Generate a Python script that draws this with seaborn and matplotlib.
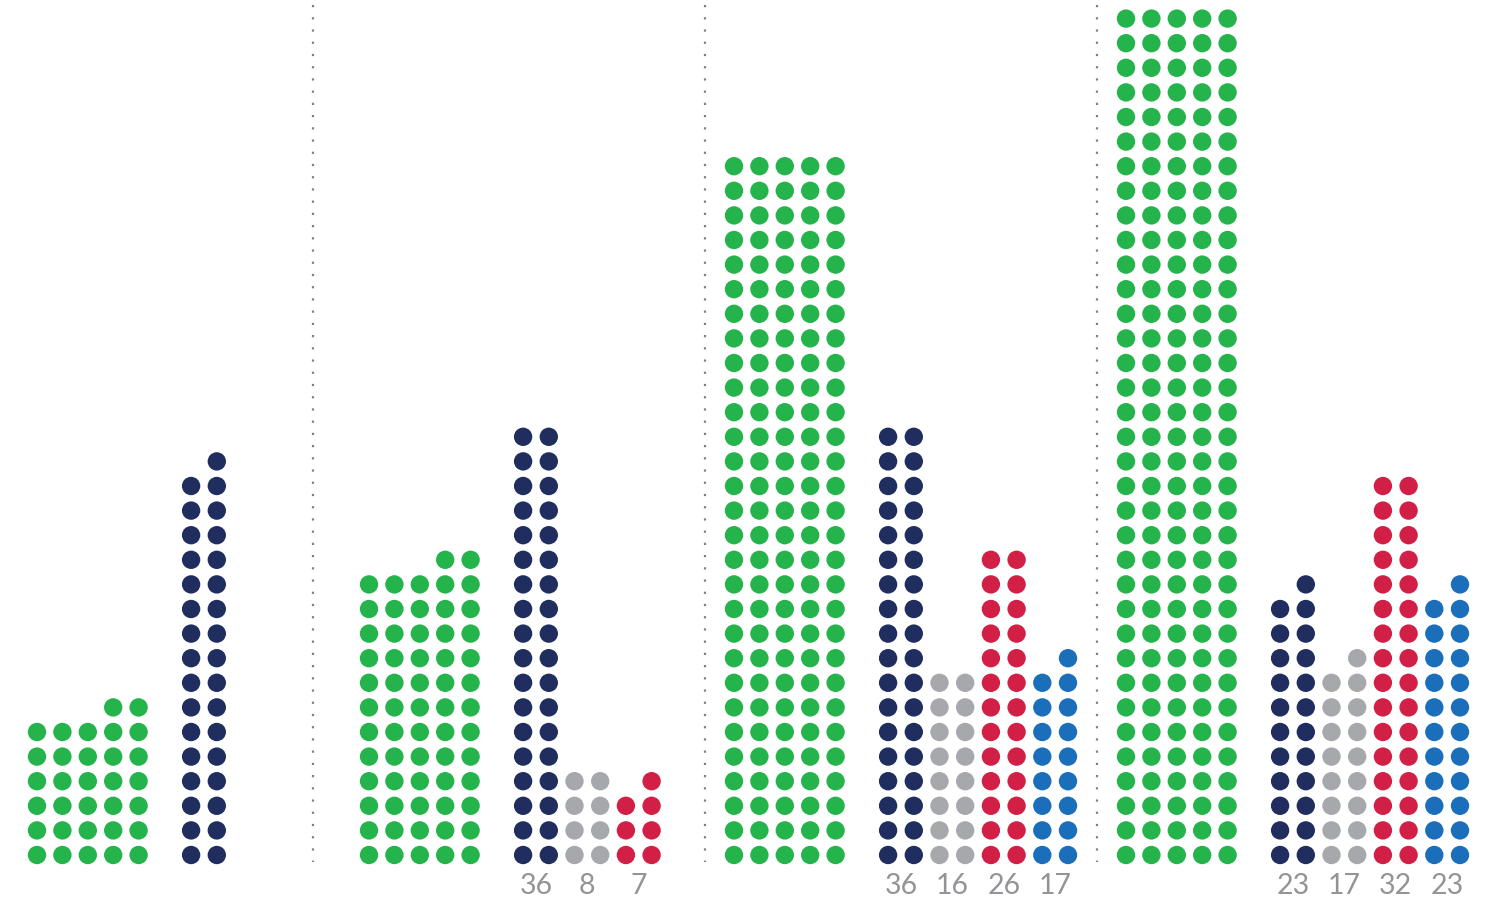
import matplotlib
matplotlib.use("Agg")
import matplotlib.pyplot as plt
import seaborn as sns
import pandas as pd

# ---- data ----
groups = ["G1", "G2", "G3", "G4"]
green = [32, 62, 145, 175]
navy = [33, 36, 36, 23]
gray = [0, 8, 16, 17]
red = [0, 7, 26, 32]
blue = [0, 0, 17, 23]
show_labels = [False, True, True, True]

series_names = ["green", "navy", "gray", "red", "blue"]
series_values = [green, navy, gray, red, blue]
palette = {"green": "#25b34b", "navy": "#1f2e5e", "gray": "#a7a8ac",
           "red": "#d21f45", "blue": "#1b6fba"}

# ---- layout ----
W, H = 1492, 901
group_left = [37, 369, 734, 1126]
separators = [313, 705, 1097]
green_step = 25.4
col_step = 25.7
gap = 52.5
row_step = 24.6
base_y = 855


def col_x(gi, name, c, si):
    if name == "green":
        return group_left[gi] + c * green_step
    start = group_left[gi] + 4 * green_step + gap
    return start + (2 * (si - 1) + c) * col_step


rows = []
label_rows = []
for gi, g in enumerate(groups):
    for si, name in enumerate(series_names):
        n = series_values[si][gi]
        ncols = 5 if name == "green" else 2
        full, rem = divmod(n, ncols)
        for r in range(full):
            for c in range(ncols):
                rows.append(dict(x=col_x(gi, name, c, si),
                                 y=base_y - r * row_step, s=name))
        for k in range(rem):
            c = ncols - 1 - k
            rows.append(dict(x=col_x(gi, name, c, si),
                             y=base_y - full * row_step, s=name))
        if name != "green" and n > 0 and show_labels[gi]:
            lx = (col_x(gi, name, 0, si) + col_x(gi, name, 1, si)) / 2
            label_rows.append((lx, n))

df = pd.DataFrame(rows)

sns.set_theme(style="white")
plt.rcParams['font.family'] = ['Lato', 'DejaVu Sans']

fig = plt.figure(figsize=(W / 100, H / 100), dpi=100)
ax = fig.add_axes([0, 0, 1, 1])
sns.scatterplot(data=df, x="x", y="y", hue="s", palette=palette, s=175,
                linewidth=0, legend=False, ax=ax)

for sx in separators:
    ax.vlines(sx, 5, 862, colors="#808080", linestyles=(0, (1, 4.5)), linewidth=1.6)

for lx, val in label_rows:
    ax.text(lx, 886, str(val), ha="center", va="center", fontsize=20.5,
            color="#929497", fontweight="normal")

ax.set_xlim(0, W)
ax.set_ylim(H, 0)
ax.axis("off")
fig.savefig("out.png", dpi=100)
